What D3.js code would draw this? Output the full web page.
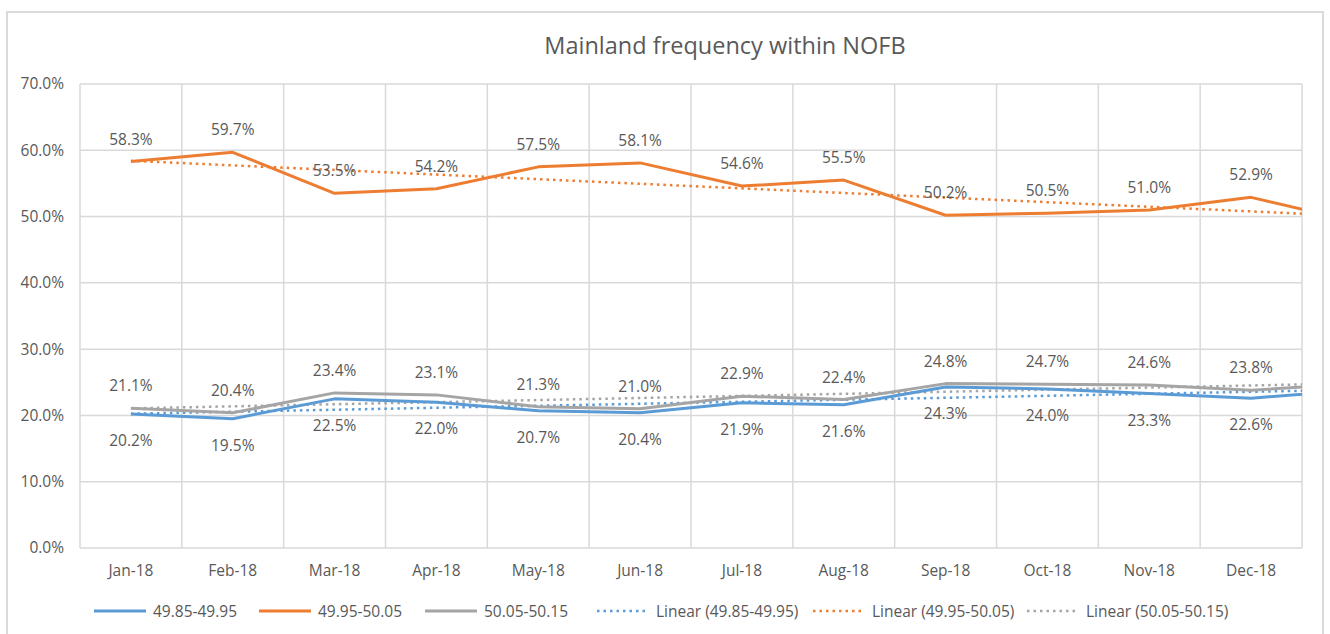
<!DOCTYPE html>
<html>
  <head>
    <title>Mainland frequency within NOFB</title>
    <script src="https://cdn.jsdelivr.net/npm/d3@7/dist/d3.min.js"></script>
    <style>
      body { margin: 0; background: #fff; }
      text { font-family: "Open Sans", "Liberation Sans", sans-serif; fill: #595959; }
    </style>
  </head>
  <body>
    <svg width="1330" height="634"></svg>
    <script>

      // categories (13th point exists in the source data but sits past the axis edge)
      const months = ["Jan-18","Feb-18","Mar-18","Apr-18","May-18","Jun-18",
                      "Jul-18","Aug-18","Sep-18","Oct-18","Nov-18","Dec-18","Jan-19"];
      const shownMonths = months.slice(0, 12);

      const low  = [20.2, 19.5, 22.5, 22.0, 20.7, 20.4, 21.9, 21.6, 24.3, 24.0, 23.3, 22.6, 23.8];
      const mid  = [58.3, 59.7, 53.5, 54.2, 57.5, 58.1, 54.6, 55.5, 50.2, 50.5, 51.0, 52.9, 49.3];
      const high = [21.1, 20.4, 23.4, 23.1, 21.3, 21.0, 22.9, 22.4, 24.8, 24.7, 24.6, 23.8, 24.8];

      const seriesNames = ["49.85-49.95", "49.95-50.05", "50.05-50.15"];
      const yTicks = [0, 10, 20, 30, 40, 50, 60, 70];

      const series = [
        { name: seriesNames[0], values: low,  color: "#5B9BD5", labelPos: "below" },
        { name: seriesNames[1], values: mid,  color: "#ED7D31", labelPos: "above" },
        { name: seriesNames[2], values: high, color: "#A5A5A5", labelPos: "above" }
      ];

      const svg = d3.select("svg");
      const plot = { left: 80, right: 1302, top: 84, bottom: 548 };

      // outer chart frame
      svg.append("path")
        .attr("d", "M7,634 V12 H1323 V634")
        .attr("fill", "none")
        .attr("stroke", "#D9D9D9")
        .attr("stroke-width", 2);

      svg.append("text")
        .attr("x", 725).attr("y", 54)
        .attr("text-anchor", "middle")
        .style("font-size", "23.5px")
        .text("Mainland frequency within NOFB");

      const band = d3.scaleBand()
        .domain(shownMonths)
        .range([plot.left, plot.right]);

      // index -> x at band centre, continuing past the last band
      const x = d3.scaleLinear()
        .domain([0, 12])
        .range([plot.left + band.bandwidth() / 2, plot.left + band.bandwidth() * 12.5]);

      const y = d3.scaleLinear()
        .domain([0, 70])
        .range([plot.bottom, plot.top]);

      // grid
      svg.append("g")
        .selectAll("line")
        .data(yTicks)
        .join("line")
          .attr("x1", plot.left).attr("x2", plot.right)
          .attr("y1", d => y(d)).attr("y2", d => y(d))
          .attr("stroke", "#D9D9D9").attr("stroke-width", 1.5);

      svg.append("g")
        .selectAll("line")
        .data(d3.range(13))
        .join("line")
          .attr("x1", i => plot.left + i * band.bandwidth())
          .attr("x2", i => plot.left + i * band.bandwidth())
          .attr("y1", plot.top).attr("y2", plot.bottom)
          .attr("stroke", "#D9D9D9").attr("stroke-width", 1.5);

      // axes
      const yAxis = svg.append("g")
        .attr("transform", `translate(${plot.left},0)`)
        .call(d3.axisLeft(y).tickValues(yTicks).tickSize(0).tickPadding(16)
                .tickFormat(d => d.toFixed(1) + "%"));
      yAxis.select(".domain").remove();
      yAxis.selectAll("text").style("font-size", "15.5px").attr("fill", "#595959");

      const xAxis = svg.append("g")
        .attr("transform", `translate(0,${plot.bottom})`)
        .call(d3.axisBottom(band).tickSize(0).tickPadding(17));
      xAxis.select(".domain").remove();
      xAxis.selectAll("text").style("font-size", "15.5px").attr("fill", "#595959");

      svg.append("defs").append("clipPath").attr("id", "plotClip")
        .append("rect")
          .attr("x", plot.left).attr("y", plot.top)
          .attr("width", plot.right - plot.left)
          .attr("height", plot.bottom - plot.top);

      const lines = svg.append("g").attr("clip-path", "url(#plotClip)");

      // linear trendlines (least squares over every point)
      series.forEach(s => {
        const n = s.values.length;
        const mx = d3.mean(d3.range(n));
        const my = d3.mean(s.values);
        const slope = d3.sum(s.values, (v, i) => (i - mx) * (v - my)) /
                      d3.sum(d3.range(n), i => (i - mx) * (i - mx));
        const b = my - slope * mx;
        lines.append("line")
          .attr("x1", x(0)).attr("y1", y(b))
          .attr("x2", x(n - 1)).attr("y2", y(b + slope * (n - 1)))
          .attr("stroke", s.color)
          .attr("stroke-width", 2.5)
          .attr("stroke-dasharray", "2.5,4");
      });

      const line = d3.line()
        .x((d, i) => x(i))
        .y(d => y(d));

      lines.selectAll("path.series")
        .data(series)
        .join("path")
          .attr("class", "series")
          .attr("d", d => line(d.values))
          .attr("fill", "none")
          .attr("stroke", d => d.color)
          .attr("stroke-width", 3)
          .attr("stroke-linejoin", "round");

      // data labels
      series.forEach(s => {
        svg.append("g")
          .selectAll("text")
          .data(s.values.slice(0, 12))
          .join("text")
            .attr("x", (d, i) => x(i))
            .attr("y", d => y(d) + (s.labelPos === "above" ? -17 : 32))
            .attr("text-anchor", "middle")
            .style("font-size", "15.5px")
            .text(d => d.toFixed(1) + "%");
      });

      // legend
      const legendItems = [
        { label: seriesNames[0], color: "#5B9BD5", dash: null, x: 94 },
        { label: seriesNames[1], color: "#ED7D31", dash: null, x: 259 },
        { label: seriesNames[2], color: "#A5A5A5", dash: null, x: 425 },
        { label: "Linear (" + seriesNames[0] + ")", color: "#5B9BD5", dash: "2.5,4", x: 597 },
        { label: "Linear (" + seriesNames[1] + ")", color: "#ED7D31", dash: "2.5,4", x: 813 },
        { label: "Linear (" + seriesNames[2] + ")", color: "#A5A5A5", dash: "2.5,4", x: 1027 }
      ];

      const legend = svg.append("g")
        .selectAll("g")
        .data(legendItems)
        .join("g")
          .attr("transform", d => `translate(${d.x},611)`);

      legend.append("line")
        .attr("x1", 0).attr("x2", 52)
        .attr("stroke", d => d.color)
        .attr("stroke-width", d => d.dash ? 2.5 : 3)
        .attr("stroke-dasharray", d => d.dash);

      legend.append("text")
        .attr("x", 59).attr("y", 5.5)
        .style("font-size", "15.5px")
        .text(d => d.label);

    </script>
  </body>
</html>
